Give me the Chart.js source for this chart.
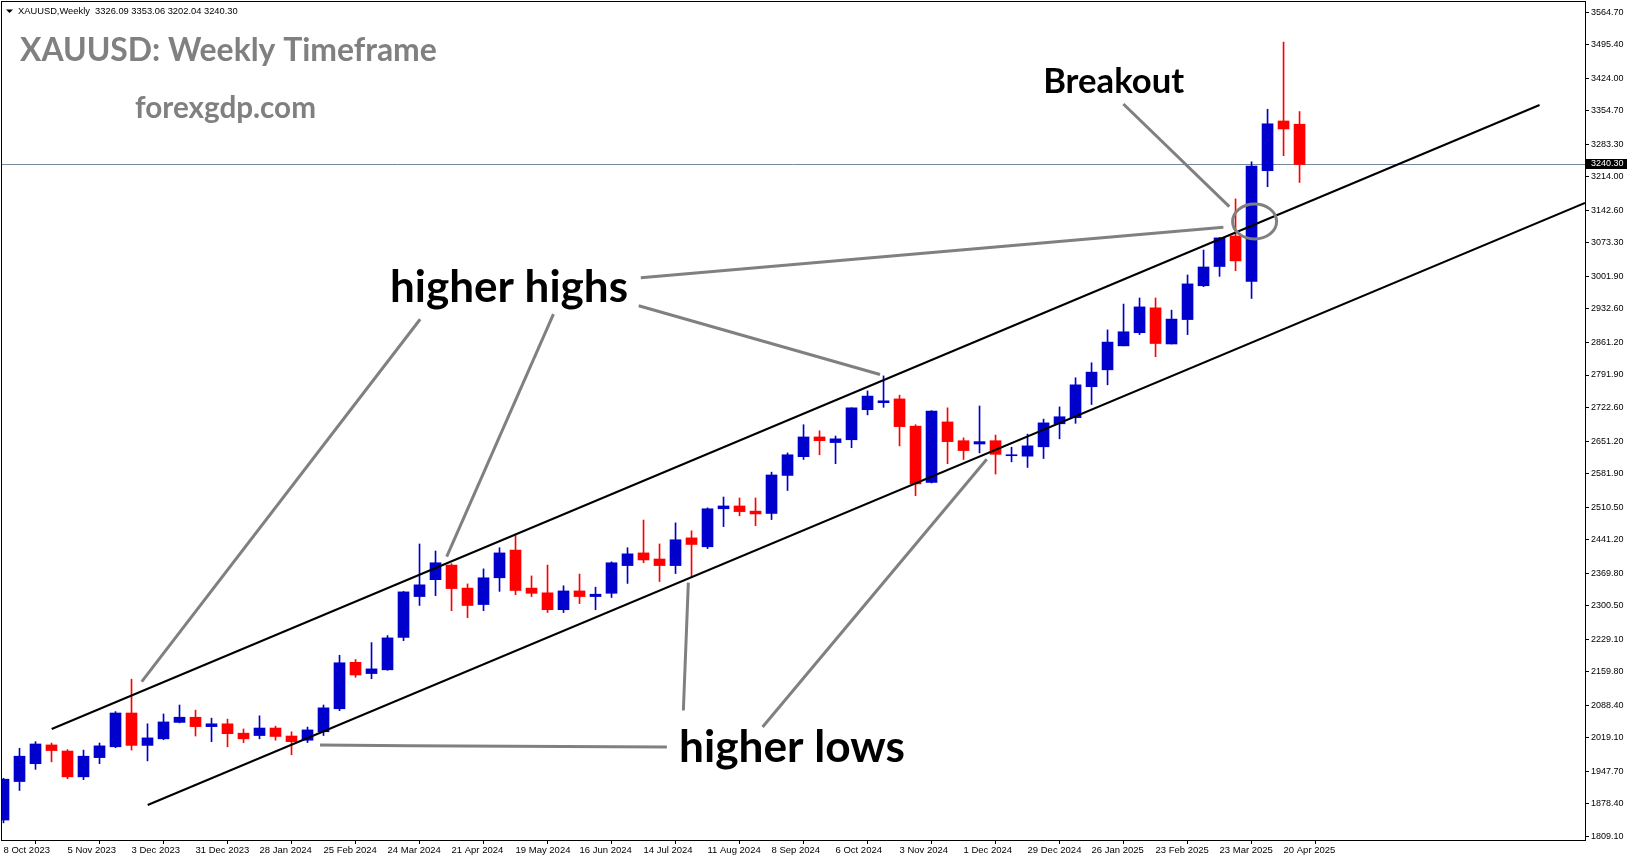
<!DOCTYPE html>
<html lang="en">
<head>
<meta charset="UTF-8" />
<title>XAUUSD Weekly Timeframe</title>
<script src="https://cdn.jsdelivr.net/npm/chart.js"></script>
<style>
  html, body { margin: 0; padding: 0; background: #ffffff; }
  #wrap { position: relative; width: 1631px; height: 861px; }
  canvas { display: block; }
</style>
</head>
<body>
<div id="wrap"><canvas id="chart" width="1631" height="861"></canvas></div>
<script>
// weekly bars from 8 Oct 2023 to 27 Apr 2025 (index 0..81)
const opens  = [1844,1926,1964,2004,1991,1936,1977,2000,2072,2003,2017,2052,2063,2043,2049,2029,2024,2040,2023,2014,
                2032,2081,2180,2156,2164,2233,2320,2356,2387,2338,2303,2360,2419,2338,2328,2292,2332,2320,2327,2386,
                2413,2400,2386,2445,2426,2507,2513,2502,2497,2578,2618,2660,2648,2654,2718,2733,2741,2683,2563,2692,
                2652,2645,2652,2620,2619,2639,2688,2701,2767,2803,2854,2882,2935,2858,2910,2982,3023,3088,2991,3227,
                3333,3326.09];
const highs  = [1933,1997,2011,2008,1994,1993,2008,2075,2144,2049,2070,2089,2078,2061,2059,2038,2066,2044,2032,2042,
                2089,2195,2186,2222,2237,2331,2432,2417,2390,2347,2379,2424,2450,2364,2387,2343,2368,2340,2394,2424,
                2483,2432,2477,2460,2509,2532,2530,2530,2585,2626,2686,2673,2662,2722,2758,2790,2749,2686,2716,2722,
                2658,2726,2664,2638,2666,2698,2724,2786,2818,2888,2943,2956,2956,2930,3005,3058,3085,3167,3246,3358,
                3501,3353.06];
const lows   = [1838,1907,1952,1968,1932,1930,1964,1998,1993,1970,2015,2051,2023,2011,2000,2009,2017,2014,1983,2009,
                2024,2077,2148,2145,2163,2226,2301,2322,2290,2275,2290,2331,2324,2320,2286,2286,2305,2292,2318,2348,
                2392,2352,2369,2360,2422,2469,2492,2471,2484,2546,2612,2622,2603,2637,2707,2723,2641,2535,2562,2603,
                2612,2626,2581,2607,2595,2614,2656,2689,2729,2771,2854,2878,2831,2858,2878,2980,3002,3014,2955,3193,
                3259,3202.04];
const closes = [1931,1980,2006,1992,1936,1980,2002,2072,2003,2019,2053,2063,2043,2049,2028,2017,2040,2022,2011,2036,
                2083,2179,2153,2166,2232,2330,2345,2392,2337,2301,2360,2413,2333,2327,2292,2332,2320,2325,2392,2411,
                2398,2386,2441,2431,2507,2513,2501,2496,2579,2622,2660,2652,2656,2722,2747,2737,2682,2560,2715,2650,
                2631,2650,2623,2621,2641,2690,2703,2771,2798,2862,2884,2937,2859,2911,2986,3022,3084,3035,3237,3327,
                3316,3240.30];

// x labels, one every 4 bars
const dateLabels = ['8 Oct 2023','5 Nov 2023','3 Dec 2023','31 Dec 2023','28 Jan 2024','25 Feb 2024','24 Mar 2024',
                    '21 Apr 2024','19 May 2024','16 Jun 2024','14 Jul 2024','11 Aug 2024','8 Sep 2024','6 Oct 2024',
                    '3 Nov 2024','1 Dec 2024','29 Dec 2024','26 Jan 2025','23 Feb 2025','23 Mar 2025','20 Apr 2025'];
const priceTicks = [1809.10,1878.40,1947.70,2019.10,2088.40,2159.80,2229.10,2300.50,2369.80,2441.20,2510.50,2581.90,
                    2651.20,2722.60,2791.90,2861.20,2932.60,3001.90,3073.30,3142.60,3214.00,3283.30,3354.70,3424.00,
                    3495.40,3564.70];

// channel lines and pointer lines, as [bar index, price]
const upperChannel = [[3.01, 2037.9], [96.0, 3367.1]];
const lowerChannel = [[9.01, 1876.0], [98.84, 3158.3]];
const highPointers = [
  [[26.04, 2910.6], [8.64, 2138.7]],
  [[34.37, 2921.6], [27.70, 2404.9]],
  [[39.70, 2939.3], [54.78, 2793.0]],
  [[39.83, 2999.2], [76.24, 3106.6]]
];
const lowPointers = [
  [[41.46, 1999.7], [25.30, 2002.3], [19.78, 2003.8]],
  [[42.49, 2077.4], [42.80, 2349.6]],
  [[47.44, 2042.0], [61.45, 2612.4]]
];
const breakoutPointer = [[69.99, 3369.2], [76.61, 3150.4]];
const breakoutCircle = [78.19, 3118.9];

const bullColor = '#0000CD';
const bearColor = '#FF0000';
const candleColor = ctx => closes[ctx.dataIndex] >= opens[ctx.dataIndex] ? bullColor : bearColor;

function lineSet(points, color, width) {
  return {
    type: 'line',
    data: points.map(p => ({ x: p[0], y: p[1] })),
    borderColor: color,
    borderWidth: width,
    pointRadius: 0,
    fill: false,
    tension: 0,
    order: 0
  };
}

function fitFont(ctx, text, weight, family, width) {
  ctx.font = weight + ' 100px ' + family;
  const w = ctx.measureText(text).width;
  return weight + ' ' + (100 * width / w).toFixed(2) + 'px ' + family;
}

// no extra room for edge tick labels, the plot keeps its fixed frame
function noEdgePadding(s) {
  s.paddingTop = 0;
  s.paddingBottom = 0;
  s.paddingLeft = 0;
  s.paddingRight = 0;
}

const overlay = {
  id: 'overlay',
  beforeDatasetsDraw(chart) {
    const { ctx, chartArea: a, scales: { y } } = chart;
    const py = Math.round(y.getPixelForValue(closes[closes.length - 1])) + 0.5;
    ctx.save();
    ctx.strokeStyle = '#778899';
    ctx.lineWidth = 1;
    ctx.beginPath();
    ctx.moveTo(a.left, py);
    ctx.lineTo(a.right, py);
    ctx.stroke();
    ctx.restore();
  },
  afterDatasetsDraw(chart) {
    const { ctx, scales: { x, y } } = chart;
    const cx = x.getPixelForValue(breakoutCircle[0]);
    const cy = y.getPixelForValue(breakoutCircle[1]);
    ctx.save();
    ctx.strokeStyle = '#808080';
    ctx.lineWidth = 3;
    ctx.beginPath();
    ctx.ellipse(cx, cy, 22, 17.5, 0, 0, Math.PI * 2);
    ctx.stroke();
    ctx.restore();
  },
  afterDraw(chart) {
    const { ctx, chartArea: a, scales: { x, y } } = chart;
    ctx.save();
    // frame
    ctx.strokeStyle = '#000';
    ctx.lineWidth = 1;
    ctx.strokeRect(a.left - 0.5, a.top - 0.5, a.right - a.left + 1, a.bottom - a.top + 1);

    // current price tag
    const last = closes[closes.length - 1];
    const py = Math.round(y.getPixelForValue(last));
    ctx.fillStyle = '#000';
    ctx.fillRect(a.right + 1, py - 5, 41, 10);
    ctx.fillStyle = '#fff';
    ctx.font = '9px "Liberation Sans"';
    ctx.textAlign = 'left';
    ctx.textBaseline = 'middle';
    ctx.fillText(last.toFixed(2), a.right + 6, py);

    // header line
    ctx.fillStyle = '#000';
    ctx.beginPath();
    ctx.moveTo(6, 9.5); ctx.lineTo(13, 9.5); ctx.lineTo(9.5, 13);
    ctx.closePath();
    ctx.fill();
    const head = 'XAUUSD,Weekly  ' + opens[81].toFixed(2) + ' ' + highs[81].toFixed(2) + ' ' +
                 lows[81].toFixed(2) + ' ' + closes[81].toFixed(2);
    ctx.font = fitFont(ctx, head, 'normal', '"Liberation Sans"', 220);
    ctx.fillText(head, 18, 11);

    // titles
    ctx.fillStyle = '#808080';
    ctx.font = fitFont(ctx, 'XAUUSD: Weekly Timeframe', 'bold', 'Lato', 417);
    ctx.fillText('XAUUSD: Weekly Timeframe', 20, 51);
    ctx.font = fitFont(ctx, 'forexgdp.com', 'bold', 'Lato', 181);
    ctx.fillText('forexgdp.com', 135, 108);

    // annotation labels
    ctx.fillStyle = '#000';
    ctx.textAlign = 'center';
    const labels = [
      ['higher highs', 31.59, 2977.3, 238],
      ['higher lows', 49.28, 1997.5, 226],
      ['Breakout', 69.38, 3416.9, 141]
    ];
    labels.forEach(([t, xi, pv, w]) => {
      ctx.font = fitFont(ctx, t, 'bold', 'Lato', w);
      ctx.fillText(t, x.getPixelForValue(xi), y.getPixelForValue(pv));
    });
    ctx.restore();
  }
};

const datasets = [
  lineSet(upperChannel, '#000', 2),
  lineSet(lowerChannel, '#000', 2),
  ...highPointers.map(p => lineSet(p, '#808080', 3)),
  ...lowPointers.map(p => lineSet(p, '#808080', 3)),
  lineSet(breakoutPointer, '#808080', 3),
  {
    type: 'bar',
    data: opens.map((o, i) => ({ x: i, y: [o, closes[i]] })),
    backgroundColor: candleColor,
    barThickness: 11,
    minBarLength: 1,
    grouped: false,
    order: 1
  },
  {
    type: 'bar',
    data: lows.map((l, i) => ({ x: i, y: [l, highs[i]] })),
    backgroundColor: candleColor,
    barThickness: 1,
    grouped: false,
    order: 2
  }
];

new Chart(document.getElementById('chart'), {
  type: 'bar',
  data: { datasets },
  options: {
    responsive: false,
    animation: false,
    devicePixelRatio: 1,
    layout: { padding: { left: 2, top: 2, right: 0, bottom: 0 } },
    plugins: { legend: { display: false }, tooltip: { enabled: false } },
    scales: {
      x: {
        type: 'linear',
        min: -0.094,
        max: 98.84,
        offset: false,
        border: { display: false },
        grid: { drawOnChartArea: false, drawTicks: true, tickLength: 4, color: '#000' },
        afterBuildTicks: s => { s.ticks = dateLabels.map((_, i) => ({ value: i * 4 })); },
        afterFit: s => { s.height = 21; noEdgePadding(s); },
        ticks: {
          autoSkip: false,
          maxRotation: 0,
          align: 'start',
          padding: 1,
          color: '#000',
          font: { family: '"Liberation Sans"', size: 9.5 },
          callback: v => dateLabels[Math.round(v / 4)]
        }
      },
      y: {
        type: 'linear',
        position: 'right',
        min: 1801.5,
        max: 3586.4,
        border: { display: false },
        grid: { drawOnChartArea: false, drawTicks: true, tickLength: 4, color: '#000' },
        afterBuildTicks: s => { s.ticks = priceTicks.map(v => ({ value: v })); },
        afterFit: s => { s.width = 46; noEdgePadding(s); },
        ticks: {
          autoSkip: false,
          padding: 2,
          color: '#000',
          font: { family: '"Liberation Sans"', size: 9 },
          callback: v => v.toFixed(2)
        }
      }
    }
  },
  plugins: [overlay]
});
</script>
</body>
</html>
